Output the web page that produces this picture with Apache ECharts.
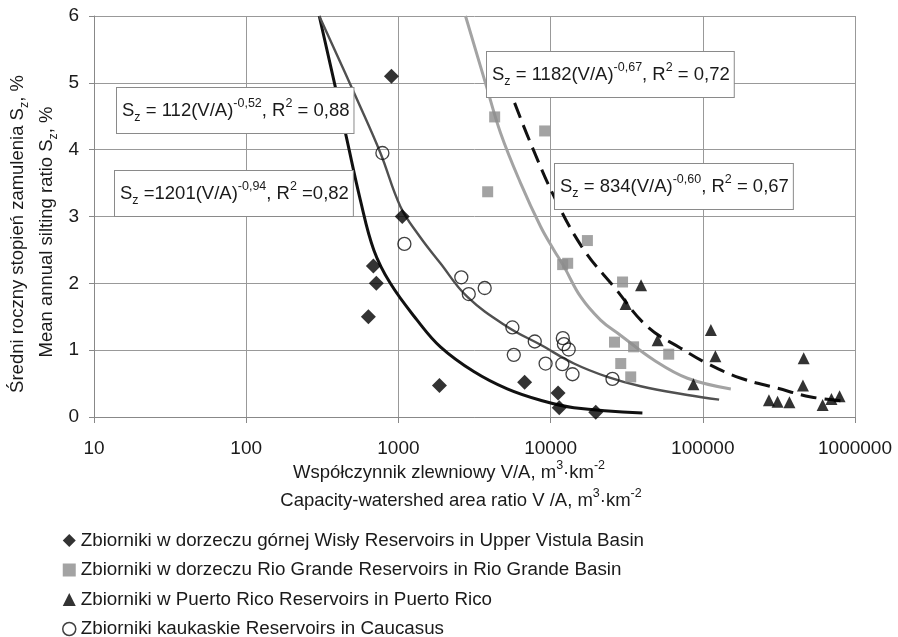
<!DOCTYPE html>
<html>
<head>
<meta charset="utf-8">
<title>Sz vs V/A</title>
<script src="https://cdn.jsdelivr.net/npm/echarts@6.0.0/dist/echarts.min.js"></script>
<style>
  html, body { margin: 0; padding: 0; background: #fff; }
  #chart { width: 898px; height: 637px; }
</style>
</head>
<body>
<div id="chart"></div>
<script>
// measured reservoirs (x = V/A, y = Sz %)
var vistulaX = [900, 1060, 685, 716, 635, 1860, 6750, 11200, 11400, 19800];
var vistulaY = [5.1, 3.0, 2.26, 2.0, 1.5, 0.47, 0.52, 0.36, 0.14, 0.07];

var rioX = [4290, 9140, 3860, 17450, 12000, 12950, 29700, 26300, 35100, 59700, 28900, 33600];
var rioY = [4.49, 4.28, 3.37, 2.64, 2.28, 2.3, 2.02, 1.12, 1.05, 0.94, 0.8, 0.6];

var puertoX = [39300, 31100, 50500, 113000, 121000, 86800, 460000, 455000, 272000, 310000, 371000, 613000, 700000, 792000];
var puertoY = [1.97, 1.69, 1.15, 1.3, 0.91, 0.49, 0.88, 0.47, 0.25, 0.23, 0.22, 0.18, 0.27, 0.31];

var caucX = [785, 1095, 2590, 2900, 3690, 5610, 5730, 7870, 9270, 12030, 12230, 13150, 11950, 13930, 25500];
var caucY = [3.95, 2.59, 2.09, 1.84, 1.93, 1.34, 0.93, 1.13, 0.8, 1.18, 1.09, 1.01, 0.79, 0.64, 0.57];

// trend lines
var vistulaFitX = [302, 385, 459, 562, 689, 885, 1327, 1888, 3127, 5188, 8590, 14230, 40100];
var vistulaFitY = [6.0, 4.94, 4.15, 3.25, 2.5, 2.0, 1.45, 1.05, 0.68, 0.42, 0.25, 0.14, 0.06];

var caucFitX = [302, 535, 762, 1030, 1362, 1888, 2830, 5188, 8590, 14230, 23600, 39100, 79300, 128000];
var caucFitY = [6.0, 4.75, 3.95, 3.15, 2.72, 2.3, 1.8, 1.35, 1.08, 0.8, 0.6, 0.46, 0.33, 0.26];

var rioFitX = [2760, 3730, 4690, 6350, 8590, 10500, 12250, 15740, 21300, 28900, 47900, 79300, 152800];
var rioFitY = [6.0, 5.0, 4.25, 3.5, 2.85, 2.5, 2.25, 1.8, 1.45, 1.22, 0.85, 0.58, 0.42];

var puertoFitX = [5800, 7380, 10800, 16560, 26060, 43300, 71600, 107000, 178000, 310000, 514000, 850000];
var puertoFitY = [4.7, 4.1, 3.25, 2.5, 1.95, 1.35, 1.03, 0.8, 0.58, 0.43, 0.3, 0.24];

// axis ticks
var xTicks = [10, 100, 1000, 10000, 100000, 1000000];
var yTicks = [0, 1, 2, 3, 4, 5, 6];

var names = [
    'Zbiorniki w dorzeczu górnej Wisły Reservoirs in Upper Vistula Basin',
    'Zbiorniki w dorzeczu Rio Grande Reservoirs in Rio Grande Basin',
    'Zbiorniki w Puerto Rico Reservoirs in Puerto Rico',
    'Zbiorniki kaukaskie Reservoirs in Caucasus'
];

// equation labels: [coefficient part, exponent, R2 part]
var fitLabels = [
    [' = 112(V/A)', '-0,52', ' = 0,88'],
    [' =1201(V/A)', '-0,94', ' =0,82'],
    [' = 1182(V/A)', '-0,67', ' = 0,72'],
    [' = 834(V/A)', '-0,60', ' = 0,67']
];

var FONT = '"Liberation Sans", Arial, sans-serif';
var TXT = '#1a1a1a';

function pairs(xs, ys) {
    return xs.map(function (x, i) { return [x, ys[i]]; });
}

var rich = {
    n: { fontSize: 18.5, fontFamily: FONT, fill: TXT, lineHeight: 27 },
    sup: { fontSize: 12.5, fontFamily: FONT, fill: TXT, lineHeight: 15, verticalAlign: 'top' },
    sub: { fontSize: 12.5, fontFamily: FONT, fill: TXT, lineHeight: 18, verticalAlign: 'bottom' }
};

function eqText(l) {
    return '{n|S}{sub|z}{n|' + l[0] + '}{sup|' + l[1] + '}{n|, R}{sup|2}{n|' + l[2] + '}';
}

function eqBox(l, x, y) {
    return {
        type: 'text', z: 100, x: x, y: y,
        style: {
            text: eqText(l), rich: rich, fontSize: 18.5, fontFamily: FONT,
            backgroundColor: '#fff', borderColor: '#8a8a8a', borderWidth: 1,
            padding: [9, 4, 9, 5]
        }
    };
}

function plainText(text, x, y, rot) {
    return {
        type: 'text', z: 100, x: x, y: y, rotation: rot || 0,
        style: { text: text, rich: rich, fontSize: 18.5, fontFamily: FONT, align: 'center', verticalAlign: 'middle' }
    };
}

function fitLine(name, xs, ys, style) {
    return {
        name: name, type: 'line', data: pairs(xs, ys),
        smooth: 0.4, showSymbol: false, symbol: 'none',
        lineStyle: style, z: 2
    };
}

var myChart = echarts.init(document.getElementById('chart'), null, { renderer: 'canvas' });

myChart.setOption({
    animation: false,
    backgroundColor: '#fff',
    grid: { left: 94, right: 43, top: 16, bottom: 220, containLabel: false, outerBoundsMode: 'none' },
    xAxis: {
        type: 'log', logBase: 10,
        min: xTicks[0], max: xTicks[xTicks.length - 1],
        axisLine: { lineStyle: { color: '#888', width: 1 } },
        axisTick: { show: true, length: 6, lineStyle: { color: '#888' } },
        splitLine: { show: true, lineStyle: { color: '#999', width: 1 } },
        minorTick: { show: false },
        axisLabel: {
            margin: 22, fontSize: 19, fontFamily: FONT, color: TXT,
            formatter: function (v) { return String(Math.round(v)); }
        }
    },
    yAxis: {
        type: 'value',
        min: yTicks[0], max: yTicks[yTicks.length - 1], interval: 1,
        axisLine: { show: true, lineStyle: { color: '#888', width: 1 } },
        axisTick: { show: true, length: 5, lineStyle: { color: '#888' } },
        splitLine: { show: true, lineStyle: { color: '#999', width: 1 } },
        axisLabel: { margin: 15, fontSize: 19, fontFamily: FONT, color: TXT }
    },
    legend: {
        orient: 'vertical', left: 62, top: 531, height: 160, padding: 0,
        itemWidth: 13, itemHeight: 13, itemGap: 10.5,
        selectedMode: false,
        textStyle: { fontSize: 18.8, fontFamily: FONT, color: TXT },
        data: [
            { name: names[0], icon: 'diamond' },
            { name: names[1], icon: 'rect' },
            { name: names[2], icon: 'triangle' },
            { name: names[3], icon: 'circle', itemStyle: { color: '#fff', borderColor: '#111', borderWidth: 1.5 } }
        ]
    },
    series: [
        // trend lines
        fitLine('fitVistula', vistulaFitX, vistulaFitY, { color: '#111', width: 3 }),
        fitLine('fitCaucasus', caucFitX, caucFitY, { color: '#505050', width: 2.4 }),
        fitLine('fitRio', rioFitX, rioFitY, { color: '#a3a3a3', width: 3 }),
        fitLine('fitPuerto', puertoFitX, puertoFitY, { color: '#111', width: 3, type: [16, 8] }),
        // measured points
        {
            name: names[0], type: 'scatter', data: pairs(vistulaX, vistulaY),
            symbol: 'diamond', symbolSize: 15, itemStyle: { color: '#000' }, z: 4
        },
        {
            name: names[1], type: 'scatter', data: pairs(rioX, rioY),
            symbol: 'rect', symbolSize: 11, itemStyle: { color: '#8c8c8c' }, z: 4
        },
        {
            name: names[2], type: 'scatter', data: pairs(puertoX, puertoY),
            symbol: 'triangle', symbolSize: 12, itemStyle: { color: '#000' }, z: 4
        },
        {
            name: names[3], type: 'scatter', data: pairs(caucX, caucY),
            symbol: 'circle', symbolSize: 13,
            itemStyle: { color: 'rgba(255,255,255,0)', borderColor: '#111', borderWidth: 1.3 }, z: 4
        }
    ],
    graphic: [
        eqBox(fitLabels[0], 117, 88),
        eqBox(fitLabels[1], 115, 171),
        eqBox(fitLabels[2], 487, 52),
        eqBox(fitLabels[3], 555, 164),
        // axis titles
        plainText('{n|Średni roczny stopień zamulenia S}{sub|z}{n|, %}', 18, 234, Math.PI / 2),
        plainText('{n|Mean annual silting ratio S}{sub|z}{n|, %}', 47, 232, Math.PI / 2),
        plainText('{n|Współczynnik zlewniowy V/A, m}{sup|3}{n|·km}{sup|-2}', 449, 473),
        plainText('{n|Capacity-watershed area ratio V /A, m}{sup|3}{n|·km}{sup|-2}', 461, 501)
    ]
});
</script>
</body>
</html>
